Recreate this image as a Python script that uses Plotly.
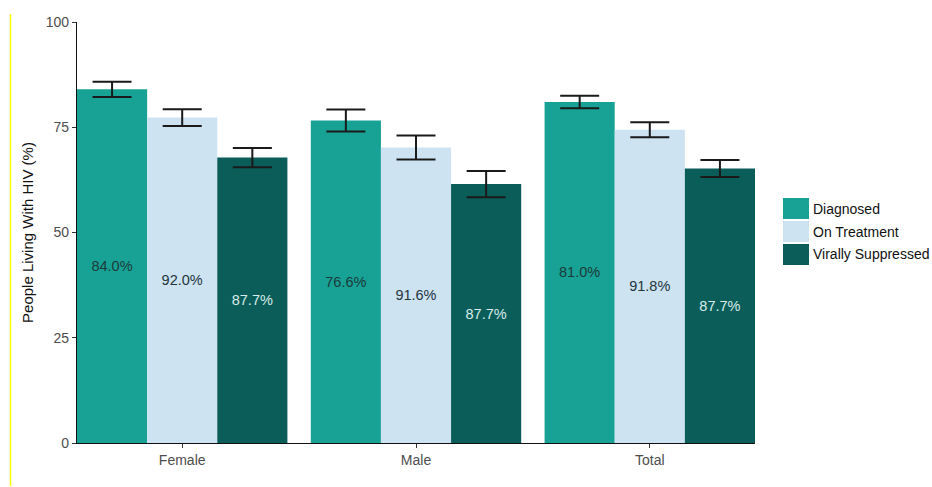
import plotly.graph_objects as go

# Care cascade by sex: bar heights (% of people living with HIV)
categories = ["Female", "Male", "Total"]
series_names = ["Diagnosed", "On Treatment", "Virally Suppressed"]
diagnosed = [84.0, 76.6, 81.0]
on_treatment = [77.3, 70.2, 74.4]
suppressed = [67.8, 61.5, 65.2]

# Half-widths of the confidence intervals
diagnosed_err = [1.8, 2.6, 1.5]
on_treatment_err = [2.0, 2.85, 1.8]
suppressed_err = [2.3, 3.1, 2.0]

# Step-to-step percentages printed inside the bars
diagnosed_labels = ["84.0%", "76.6%", "81.0%"]
on_treatment_labels = ["92.0%", "91.6%", "91.8%"]
suppressed_labels = ["87.7%", "87.7%", "87.7%"]

colors = ["#18a295", "#cde3f2", "#0b5d59"]
text_colors = ["#1c3a3a", "#24343d", "#d6ece8"]

values = [diagnosed, on_treatment, suppressed]
errors = [diagnosed_err, on_treatment_err, suppressed_err]
labels = [diagnosed_labels, on_treatment_labels, suppressed_labels]

FONT = "Liberation Sans, Arial, sans-serif"
W, H = 932, 487
ML, MR, MT, MB = 77, 177, 22, 44
plot_w = W - ML - MR
plot_h = H - MT - MB


def px_x(p):
    return (p - ML) / plot_w


def px_y(p):
    return (H - MB - p) / plot_h


fig = go.Figure()
for name, vals, err, lab, col, tcol in zip(series_names, values, errors, labels, colors, text_colors):
    fig.add_trace(go.Bar(
        name=name,
        x=list(range(len(categories))),
        y=vals,
        marker=dict(color=col, line=dict(width=0)),
        text=lab,
        textposition="inside",
        insidetextanchor="middle",
        textangle=0,
        textfont=dict(family=FONT, size=14.5, color=tcol),
        error_y=dict(type="data", array=err, visible=True,
                     color="#1a1a1a", thickness=2, width=19.5),
        showlegend=False,
    ))

# Legend: stacked colour keys with labels to the right of the panel
key_top, key_h = 197, 23
key_x0, key_x1 = 783, 809
for i, (name, col) in enumerate(zip(series_names, colors)):
    y0 = key_top + i * key_h
    fig.add_shape(type="rect", xref="paper", yref="paper",
                  x0=px_x(key_x0), x1=px_x(key_x1),
                  y0=px_y(y0 + key_h - 1), y1=px_y(y0 + 1),
                  fillcolor=col, line=dict(width=0), layer="above")
    fig.add_annotation(xref="paper", yref="paper",
                       x=px_x(key_x1 + 2), y=px_y(y0 + key_h / 2),
                       xanchor="left", yanchor="middle", showarrow=False,
                       text=name, font=dict(family=FONT, size=14, color="#111111"))

# Yellow rule at the left edge of the figure
fig.add_shape(type="line", xref="paper", yref="paper",
              x0=px_x(10.5), x1=px_x(10.5), y0=px_y(486), y1=px_y(14),
              line=dict(color="#ffff00", width=1.5))

fig.update_layout(
    width=W, height=H,
    margin=dict(l=ML, r=MR, t=MT, b=MB),
    paper_bgcolor="white", plot_bgcolor="white",
    barmode="group", bargap=0.1, bargroupgap=0,
    font=dict(family=FONT),
    xaxis=dict(
        range=[-0.45, len(categories) - 0.55],
        tickmode="array", tickvals=list(range(len(categories))), ticktext=categories,
        showline=True, linecolor="#111111", linewidth=1.4,
        ticks="outside", ticklen=4, tickcolor="#333333", tickwidth=1.2,
        tickfont=dict(family=FONT, size=14, color="#4d4d4d"),
        showgrid=False, zeroline=False, fixedrange=True,
    ),
    yaxis=dict(
        range=[0, 100],
        tickmode="array", tickvals=[0, 25, 50, 75, 100],
        showline=True, linecolor="#111111", linewidth=1.4,
        ticks="outside", ticklen=4, tickcolor="#333333", tickwidth=1.2,
        tickfont=dict(family=FONT, size=14, color="#4d4d4d"),
        showgrid=False, zeroline=False, fixedrange=True,
        title=dict(text="People Living With HIV (%)", standoff=8,
                   font=dict(family=FONT, size=15, color="#111111")),
    ),
)

fig.write_html("out.html")
